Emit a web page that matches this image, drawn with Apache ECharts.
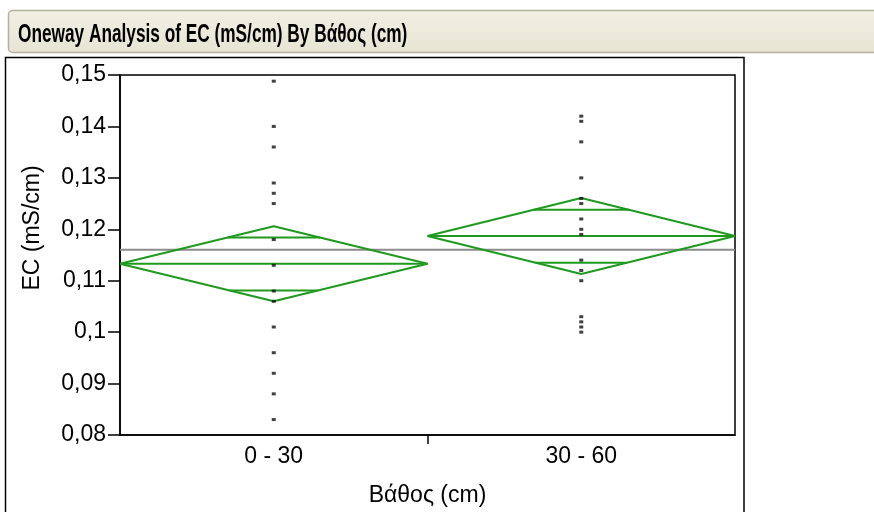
<!DOCTYPE html>
<html>
<head>
<meta charset="utf-8">
<script src="https://cdn.jsdelivr.net/npm/echarts@6/dist/echarts.min.js"></script>
<style>
  html, body { margin: 0; padding: 0; background: #ffffff; }
  #chart { width: 874px; height: 512px; }
</style>
</head>
<body>
<div id="chart"></div>
<script>
// ---- data ----
const categories = ['0 - 30', '30 - 60'];
const ecDepth0to30 = [0.1488, 0.140, 0.136, 0.129, 0.127, 0.125, 0.118, 0.113, 0.108, 0.106, 0.101, 0.096, 0.092, 0.088, 0.083];
const ecDepth30to60 = [0.142, 0.141, 0.137, 0.130, 0.126, 0.125, 0.122, 0.120, 0.119, 0.114, 0.112, 0.110, 0.103, 0.102, 0.101, 0.100];
const groupMeans = [0.1133, 0.1187];
const ciUpper = [0.1206, 0.1261];
const ciLower = [0.1060, 0.1113];
const overlapUpper = [0.1184, 0.1238];
const overlapLower = [0.1081, 0.1135];
const grandMean = 0.1160;
const yTicks = [0.08, 0.09, 0.10, 0.11, 0.12, 0.13, 0.14, 0.15];
const titleText = 'Oneway Analysis of EC (mS/cm) By Βάθος (cm)';
const xAxisTitle = 'Βάθος (cm)';
const yAxisTitle = 'EC (mS/cm)';

const GREEN = '#1f9a1f';
const FONT = '"Liberation Sans", Arial, sans-serif';
const FS = 23;

const chart = echarts.init(document.getElementById('chart'), null, { renderer: 'canvas' });

const groups = [ecDepth0to30, ecDepth30to60];
const series = [];

// grand mean line
series.push({
  type: 'line', xAxisIndex: 1, yAxisIndex: 0, symbol: 'none', silent: true, z: 2,
  lineStyle: { color: '#8c8c8c', width: 2 },
  data: [[0, grandMean], [categories.length, grandMean]]
});

groups.forEach((vals, g) => {
  const c = groupMeans[g], top = ciUpper[g], bot = ciLower[g];
  series.push({
    type: 'line', xAxisIndex: 1, yAxisIndex: 0, symbol: 'none', silent: true, z: 3,
    lineStyle: { color: GREEN, width: 2 },
    data: [[g, c], [g + 0.5, top], [g + 1, c], [g + 0.5, bot], [g, c]]
  });
  series.push({
    type: 'line', xAxisIndex: 1, yAxisIndex: 0, symbol: 'none', silent: true, z: 3,
    lineStyle: { color: GREEN, width: 2 },
    data: [[g, c], [g + 1, c]]
  });
  const hwU = 0.5 * (1 - (overlapUpper[g] - c) / (top - c));
  const hwL = 0.5 * (1 - (c - overlapLower[g]) / (c - bot));
  series.push({
    type: 'line', xAxisIndex: 1, yAxisIndex: 0, symbol: 'none', silent: true, z: 3,
    lineStyle: { color: GREEN, width: 2 },
    data: [[g + 0.5 - hwU, overlapUpper[g]], [g + 0.5 + hwU, overlapUpper[g]]]
  });
  series.push({
    type: 'line', xAxisIndex: 1, yAxisIndex: 0, symbol: 'none', silent: true, z: 3,
    lineStyle: { color: GREEN, width: 2 },
    data: [[g + 0.5 - hwL, overlapLower[g]], [g + 0.5 + hwL, overlapLower[g]]]
  });
  series.push({
    type: 'scatter', xAxisIndex: 1, yAxisIndex: 0, symbol: 'rect', symbolSize: [4, 3], z: 5,
    itemStyle: { color: '#111111' },
    data: vals.map(v => [g + 0.5, v])
  });
});

const option = {
  animation: false,
  backgroundColor: '#ffffff',
  textStyle: { fontFamily: FONT },
  graphic: [
    {
      type: 'rect', z: 0,
      shape: { x: 8.5, y: 10.5, width: 880, height: 42, r: 4 },
      style: {
        fill: new echarts.graphic.LinearGradient(0, 0, 0, 1, [
          { offset: 0, color: '#f2f0e4' }, { offset: 1, color: '#e7e4d3' }
        ]),
        stroke: '#b4b1a2', lineWidth: 1.5
      }
    },
    {
      type: 'text', z: 2, x: 18, y: 35, scaleX: 0.69, originX: 0, originY: 0,
      style: {
        text: titleText,
        font: 'bold 25px "Liberation Sans", Arial, sans-serif',
        fill: '#000000', textVerticalAlign: 'middle', verticalAlign: 'middle'
      }
    },
    {
      type: 'rect', z: 0,
      shape: { x: 5.5, y: 57.5, width: 738.5, height: 470 },
      style: { fill: 'none', stroke: '#000000', lineWidth: 1.5 }
    },
    {
      type: 'text', z: 2, x: 33, y: 228, rotation: Math.PI / 2,
      style: {
        text: yAxisTitle, font: FS + 'px "Liberation Sans", Arial, sans-serif',
        fill: '#000000', align: 'center', verticalAlign: 'middle',
        textAlign: 'center', textVerticalAlign: 'middle'
      }
    }
  ],
  grid: {
    left: 120, right: 139, top: 75, bottom: 77,
    show: true, borderColor: '#000000', borderWidth: 1.5, backgroundColor: 'transparent'
  },
  xAxis: [
    {
      type: 'category', data: categories, boundaryGap: true, gridIndex: 0, position: 'bottom',
      axisLine: { show: true, lineStyle: { color: '#000000', width: 1.5 } },
      axisTick: { show: false },
      axisLabel: { color: '#000000', fontSize: FS, margin: 10, fontFamily: FONT },
      splitLine: { show: false },
      name: xAxisTitle, nameLocation: 'middle', nameGap: 49,
      nameTextStyle: { color: '#000000', fontSize: FS, fontFamily: FONT }
    },
    {
      type: 'value', min: 0, max: categories.length, interval: 1, gridIndex: 0, show: true,
      position: 'bottom', offset: 0,
      axisLine: { show: false, onZero: false },
      axisLabel: { show: false },
      splitLine: { show: false },
      axisTick: { show: true, length: 9, customValues: [1], lineStyle: { color: '#000000', width: 1.5 } }
    }
  ],
  yAxis: [
    {
      type: 'value', min: yTicks[0], max: yTicks[yTicks.length - 1], interval: 0.01,
      axisLine: { show: true, lineStyle: { color: '#000000', width: 1.5 } },
      axisTick: { show: true, length: 12, lineStyle: { color: '#000000', width: 1.5 } },
      axisLabel: {
        color: '#000000', fontSize: FS, margin: 14, fontFamily: FONT,
        formatter: v => String(Math.round(v * 100) / 100).replace('.', ',')
      },
      splitLine: { show: false }
    }
  ],
  series: series
};

chart.setOption(option);
</script>
</body>
</html>
